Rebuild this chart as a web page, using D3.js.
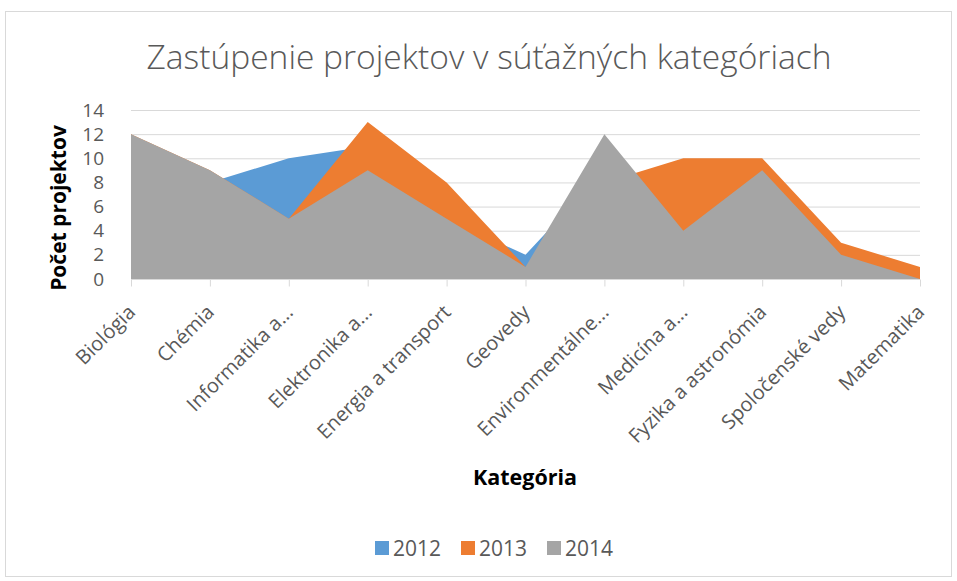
<!DOCTYPE html>
<html><head><meta charset="utf-8">
<script src="https://cdn.jsdelivr.net/npm/d3@7"></script>
<style>body{margin:0;background:#fff}svg{display:block}text{font-family:"Open Sans",sans-serif}</style>
</head><body>
<script>
const categories = ["Biológia","Chémia","Informatika a...","Elektronika a...","Energia a transport","Geovedy","Environmentálne...","Medicína a...","Fyzika a astronómia","Spoločenské vedy","Matematika"];
const seriesNames = ["2012","2013","2014"];
const values2012 = [10, 8, 10, 11, 5, 2, 9, 8, 7, 2, 0];
const values2013 = [12, 9, 5, 13, 8, 1, 8, 10, 10, 3, 1];
const values2014 = [12, 9, 5, 9, 5, 1, 12, 4, 9, 2, 0];
const yTicks = [0,2,4,6,8,10,12,14];
const colors = ["#5B9BD5","#ED7D31","#A5A5A5"];
const title = "Zastúpenie projektov v súťažných kategóriach";
const yTitle = "Počet projektov";
const xTitle = "Kategória";

const W = 957, H = 581;
const svg = d3.select("body").append("svg").attr("width", W).attr("height", H);
svg.append("rect").attr("x",5.5).attr("y",11.5).attr("width",946).attr("height",565)
  .attr("fill","#fff").attr("stroke","#d9d9d9").attr("stroke-width",1);

const x = d3.scalePoint().domain(categories).range([131, 920]);
const y = d3.scaleLinear().domain([0,14]).range([279, 110]);

// gridlines
svg.append("g").selectAll("line").data(yTicks.filter(d=>d>0)).join("line")
  .attr("x1",131).attr("x2",920).attr("y1",d=>y(d)+0.5).attr("y2",d=>y(d)+0.5)
  .attr("stroke","#d9d9d9").attr("stroke-width",1);

const series = [values2012, values2013, values2014];
const area = d3.area().x((d,i)=>x(categories[i])).y0(y(0)).y1(d=>y(d));
svg.append("g").selectAll("path").data(series).join("path")
  .attr("d", area).attr("fill",(d,i)=>colors[i]);

// x axis
const xAxis = svg.append("g").attr("transform",`translate(0,${y(0)+0.5})`)
  .call(d3.axisBottom(x).tickSize(7).tickFormat(""));
xAxis.select(".domain").attr("stroke","#d9d9d9").attr("d","M131,0H920");
xAxis.selectAll(".tick line").attr("stroke","#d9d9d9");
xAxis.selectAll(".tick").append("text")
  .attr("fill","#595959").attr("font-size","20px").attr("text-anchor","end")
  .attr("transform","translate(5,34) rotate(-45)")
  .text(d=>d);

// y axis labels
const yAxis = svg.append("g").attr("transform","translate(105,0)")
  .call(d3.axisLeft(y).tickValues(yTicks).tickSize(0).tickFormat(d3.format("d")));
yAxis.select(".domain").remove();
yAxis.selectAll("text").attr("fill","#595959").attr("font-size","19px")
  .attr("font-family","'Open Sans',sans-serif").attr("dx","2");

// title
svg.append("text").attr("x",489).attr("y",69).attr("text-anchor","middle")
  .attr("font-size","33px").attr("font-weight",300).attr("fill","#595959")
  .attr("textLength",685).attr("lengthAdjust","spacingAndGlyphs").text(title);

// axis titles
svg.append("text").attr("transform","translate(66,208) rotate(-90)").attr("text-anchor","middle")
  .attr("font-size","21px").attr("font-weight",700).attr("fill","#000").text(yTitle);
svg.append("text").attr("x",525).attr("y",485).attr("text-anchor","middle")
  .attr("font-size","21.5px").attr("font-weight",700).attr("fill","#000").text(xTitle);

// legend
const legX = [375, 461, 547];
const leg = svg.append("g").selectAll("g").data(seriesNames).join("g")
  .attr("transform",(d,i)=>`translate(${legX[i]},541)`);
leg.append("rect").attr("width",14).attr("height",14).attr("fill",(d,i)=>colors[i]);
leg.append("text").attr("x",18).attr("y",15).attr("font-size","21px").attr("fill","#595959").text(d=>d);
</script>
</body></html>
